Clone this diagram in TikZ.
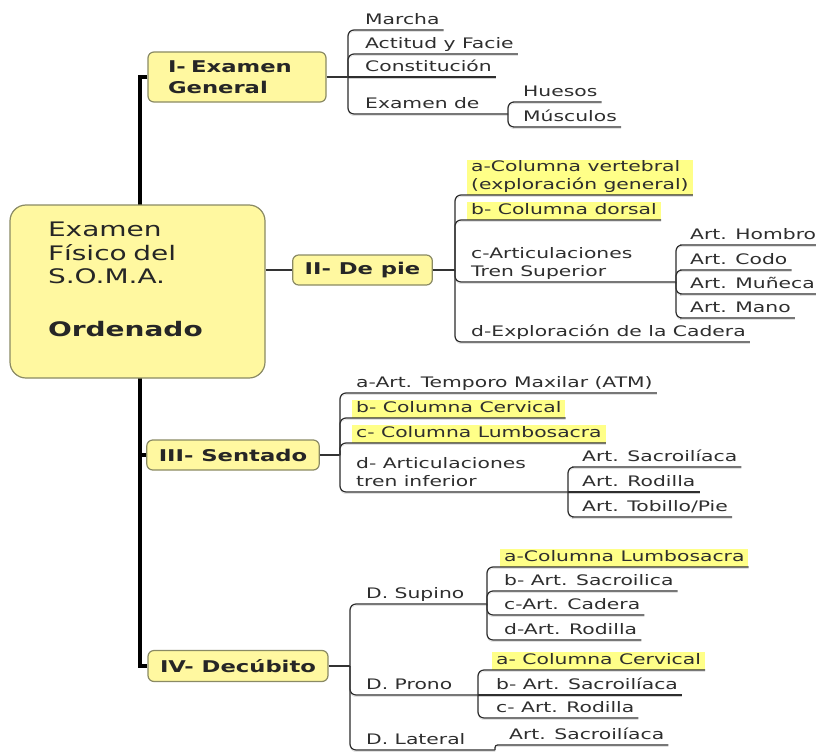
\documentclass[tikz,border=0pt]{standalone}
\usepackage{fontspec}
\setmainfont{DejaVu Sans}[FakeStretch=1.4]
\usepackage{tikz}

\definecolor{boxfill}{HTML}{FFF8A0}
\definecolor{boxline}{HTML}{8A8A64}
\definecolor{hlfill}{HTML}{FFFF88}
\definecolor{inkgray}{HTML}{2E2E2E}

\tikzset{
  topic/.style={draw=boxline, fill=boxfill, line width=1.2pt, rounded corners=6pt,
    font=\fontsize{16.2}{21}\selectfont\bfseries, text=black!85,
    minimum height=30pt, inner xsep=12pt, inner ysep=3pt},
  item/.style={anchor=south west, inner xsep=4pt, inner ysep=0pt,
    font=\fontsize{14.5}{18}\selectfont, text=inkgray, align=left,
    execute at end node=\strut},
  hl/.style={item, fill=hlfill},
  trunk/.style={line width=3.5pt, black},
  branch/.style={line width=2pt, black!80},
  link/.style={line width=1.2pt, inkgray, rounded corners=6pt,
    preaction={draw=black!18, transform canvas={yshift=-1.6pt}}}
}

\begin{document}
\begin{tikzpicture}[x=1pt, y=-1pt]
\useasboundingbox (0,0) rectangle (816,752);

\node[topic, 
   minimum width=178pt, 
   minimum height=50pt, 
   align=left, 
   text width=138pt] (I) at (237,77) 
  {I- Examen\\General};
\node[topic, minimum width=139pt] (II) at (362.5,270) {II- De pie};
\node[topic, minimum width=166pt] (III) at (233,455) {III- Sentado};
\node[topic, minimum width=180pt, minimum height=31pt] (IV) at (238,666) {IV- Decúbito};

\coordinate (T) at (140,0);
\draw[trunk] (I.west) -- (I.west -| T) -- (IV.west -| T) -- (IV.west);
\draw[trunk] (III.west) -- (III.west -| T);

\node[topic, 
   font=\fontsize{20}{23.5}\selectfont, 
   rounded corners=16pt, 
   minimum width=255pt, 
   minimum height=173pt, 
   inner xsep=38pt, 
   text width=179pt, 
   align=left] (M) at (137.5,291.5) 
  {Examen\\Físico del\\S.O.M.A.\\[29.5pt]\textbf{Ordenado}\\[1pt]\mbox{}};
\draw[branch] (M.east |- II.west) -- (II.west);

\coordinate (Ij) at (348,77);
\coordinate (Ij2) at (508,114);
\node[item] (Ia) at (361,30) {Marcha};
\node[item] (Ib) at (361,54) {Actitud y Facie};
\node[item] (Ic) at (361,77) {Constitución};
\node[item] (Id) at (361,114) {Examen de};
\node[item] (Ie) at (519,102) {Huesos};
\node[item] (If) at (519,127) {Músculos};
\draw[branch] (I.east) -- (Ij);
\draw[link] (Ij) |- (Ia.south west) -- (Ia.south east);
\draw[link] (Ij) |- (Ib.south west) -- (Ib.south east);
\draw[link] (Ij) -- (Ic.south east);
\draw[link] (Ij) |- (Id.south west) -- (Ij2);
\draw[link] (Ij2) |- (Ie.south west) -- (Ie.south east);
\draw[link] (Ij2) |- (If.south west) -- (If.south east);

\coordinate (IIj) at (455,270);
\coordinate (IIj2) at (676,282);
\node[hl] (IIa) at (467,195) {a-Columna vertebral\\(exploración general)};
\node[hl] (IIb) at (467,220) {b- Columna dorsal};
\node[item] (IIc) at (467,282) {c-Articulaciones\\Tren Superior};
\node[item] (IId) at (467,342) {d-Exploración de la Cadera};
\node[item] (IIe) at (686,245) {Art. Hombro};
\node[item] (IIf) at (686,270) {Art. Codo};
\node[item] (IIg) at (686,294) {Art. Muñeca};
\node[item] (IIh) at (686,318) {Art. Mano};
\draw[branch] (II.east) -- (IIj);
\draw[link] (IIj) |- (IIa.south west) -- (IIa.south east);
\draw[link] (IIj) |- (IIb.south west) -- (IIb.south east);
\draw[link] (IIj) |- (IIc.south west) -- (IIj2);
\draw[link] (IIj) |- (IId.south west) -- (IId.south east);
\draw[link] (IIj2) |- (IIe.south west) -- (IIe.south east);
\draw[link] (IIj2) |- (IIf.south west) -- (IIf.south east);
\draw[link] (IIj2) |- (IIg.south west) -- (IIg.south east);
\draw[link] (IIj2) |- (IIh.south west) -- (IIh.south east);

\coordinate (IIIj) at (340,455);
\coordinate (IIIj2) at (568,492);
\node[item] (IIIa) at (352,393) {a-Art. Temporo Maxilar (ATM)};
\node[hl] (IIIb) at (352,418) {b- Columna Cervical};
\node[hl] (IIIc) at (352,443) {c- Columna Lumbosacra};
\node[item] (IIId) at (352,492) {d- Articulaciones\\tren inferior};
\node[item] (IIIe) at (578,467) {Art. Sacroilíaca};
\node[item] (IIIf) at (578,492) {Art. Rodilla};
\node[item] (IIIg) at (578,517) {Art. Tobillo/Pie};
\draw[branch] (III.east) -- (IIIj);
\draw[link] (IIIj) |- (IIIa.south west) -- (IIIa.south east);
\draw[link] (IIIj) |- (IIIb.south west) -- (IIIb.south east);
\draw[link] (IIIj) |- (IIIc.south west) -- (IIIc.south east);
\draw[link] (IIIj) |- (IIId.south west) -- (IIIj2);
\draw[link] (IIIj2) |- (IIIe.south west) -- (IIIe.south east);
\draw[link] (IIIj2) -- (IIIf.south east);
\draw[link] (IIIj2) |- (IIIg.south west) -- (IIIg.south east);

\coordinate (IVj) at (350,666);
\coordinate (IVj2) at (487,604);
\coordinate (IVj3) at (478,695);
\coordinate (IVj4) at (495,750);
\node[item] (IVa) at (362,604) {D. Supino};
\node[item] (IVb) at (362,695) {D. Prono};
\node[item] (IVc) at (362,750) {D. Lateral};
\node[hl] (IVd) at (500,567) {a-Columna Lumbosacra};
\node[item] (IVe) at (500,591) {b- Art. Sacroilica};
\node[item] (IVf) at (500,615) {c-Art. Cadera};
\node[item] (IVg) at (500,640) {d-Art. Rodilla};
\node[hl] (IVh) at (492,670) {a- Columna Cervical};
\node[item] (IVi) at (492,695) {b- Art. Sacroilíaca};
\node[item] (IVk) at (492,718) {c- Art. Rodilla};
\node[item] (IVl) at (505,745) {Art. Sacroilíaca};
\draw[branch] (IV.east) -- (IVj);
\draw[link] (IVj) |- (IVa.south west) -- (IVj2);
\draw[link] (IVj) |- (IVb.south west) -- (IVj3);
\draw[link] (IVj) |- (IVc.south west) -- (IVj4);
\draw[link] (IVj2) |- (IVd.south west) -- (IVd.south east);
\draw[link] (IVj2) |- (IVe.south west) -- (IVe.south east);
\draw[link] (IVj2) |- (IVf.south west) -- (IVf.south east);
\draw[link] (IVj2) |- (IVg.south west) -- (IVg.south east);
\draw[link] (IVj3) |- (IVh.south west) -- (IVh.south east);
\draw[link] (IVj3) -- (IVi.south east);
\draw[link] (IVj3) |- (IVk.south west) -- (IVk.south east);
\draw[link, rounded corners=2.5pt] (IVj4) |- (IVl.south west) -- (IVl.south east);
\end{tikzpicture}
\end{document}
